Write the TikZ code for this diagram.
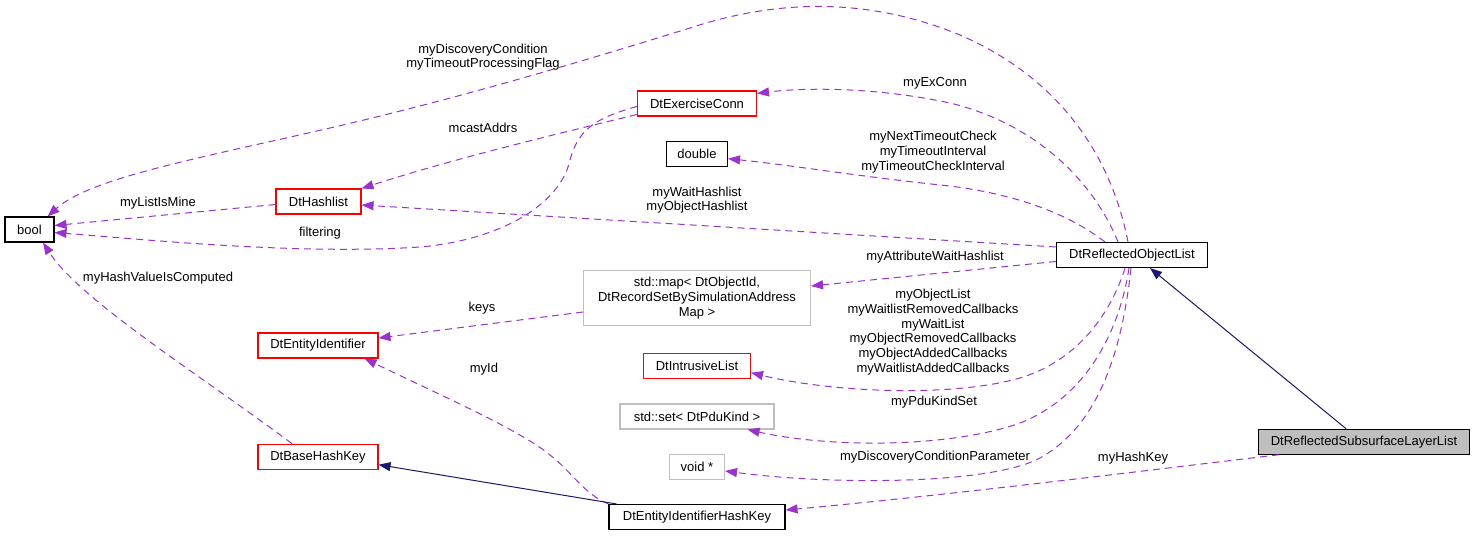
\documentclass[tikz,border=0pt]{standalone}
\usepackage{fontspec}
\setmainfont{Liberation Sans}
\usetikzlibrary{arrows.meta}

\definecolor{depcol}{HTML}{9A32CD}
\definecolor{inhcol}{HTML}{191970}
\definecolor{boxgrey}{HTML}{BFBFBF}

\begin{document}
\begin{tikzpicture}[
            x = 1pt, y = -1pt, % pixel units, y going down
            > = {Triangle[length=12pt, width=9pt]}, % arrow head style
            font = \fontsize{13}{14.7}\selectfont,
            semithick % line style
        ]

        \tikzstyle{cls}=[
            draw = black,
            line width = 1.1pt,
            fill = white,
            inner sep = 2pt,
            minimum height = 25pt
        ]
        \tikzstyle{undoc}=[cls, draw = red]
        \tikzstyle{ext}=[cls, draw = boxgrey]
        \tikzstyle{self}=[cls, fill = boxgrey]
        \tikzstyle{dep}=[->, draw = depcol, line width = 1pt, dash pattern = on 7pt off 5pt]
        \tikzstyle{inh}=[->, draw = inhcol, line width = 1pt]
        \tikzstyle{lbl}=[align = center, inner sep = 0pt]

        \useasboundingbox (0,0) rectangle (1475,537);

        % classes
        \node[cls, minimum width = 49pt] (bool) at (29.5,229.5) {bool};
        \node[undoc, minimum width = 85pt] (hashlist) at (318.5,201.5) {DtHashlist};
        \node[undoc, minimum width = 119pt] (exconn) at (697,103.5) {DtExerciseConn};
        \node[cls, minimum width = 61pt] (dbl) at (697,153.7) {double};
        \node[ext, minimum width = 227pt, minimum height = 55pt, align = center] (map) at (697,298)
            {std::map< DtObjectId,\\ DtRecordSetBySimulationAddress\\Map >};
        \node[undoc, minimum width = 120pt] (entid) at (318,345.5) {DtEntityIdentifier};
        \node[undoc, minimum width = 107pt] (intr) at (697,365.7) {DtIntrusiveList};
        \node[ext, minimum width = 154pt] (set) at (697,416.5) {std::set< DtPduKind >};
        \node[ext, minimum width = 55pt] (voidp) at (697,467) {void *};
        \node[undoc, minimum width = 120pt] (bhk) at (318,456.7) {DtBaseHashKey};
        \node[cls, minimum width = 176pt] (ehk) at (697,517) {DtEntityIdentifierHashKey};
        \node[cls, minimum width = 151pt] (rol) at (1132,255) {DtReflectedObjectList};
        \node[self, minimum width = 211pt] (rsll) at (1364,441.7) {DtReflectedSubsurfaceLayerList};

        % labels
        \node[lbl] (lDisc) at (483,57) {myDiscoveryCondition\\myTimeoutProcessingFlag};
        \node[lbl] (lExConn) at (935,83) {myExConn};
        \node[lbl] (lMcast) at (483,128) {mcastAddrs};
        \node[lbl] (lListMine) at (158,203) {myListIsMine};
        \node[lbl] (lFilter) at (320,233) {filtering};
        \node[lbl] (lTimeout) at (933,152) {myNextTimeoutCheck\\myTimeoutInterval\\myTimeoutCheckInterval};
        \node[lbl] (lWaitHash) at (697,200) {myWaitHashlist\\myObjectHashlist};
        \node[lbl] (lAttr) at (935,257) {myAttributeWaitHashlist};
        \node[lbl] (lKeys) at (482,308) {keys};
        \node[lbl] (lObjList) at (933,332) {myObjectList\\myWaitlistRemovedCallbacks\\myWaitList\\myObjectRemovedCallbacks\\myObjectAddedCallbacks\\myWaitlistAddedCallbacks};
        \node[lbl] (lPdu) at (934,402) {myPduKindSet};
        \node[lbl] (lDiscPar) at (935,457) {myDiscoveryConditionParameter};
        \node[lbl] (lHashKey) at (1133,458) {myHashKey};
        \node[lbl] (lId) at (484,369) {myId};
        \node[lbl] (lHashVal) at (158,278) {myHashValueIsComputed};

        % members
        \draw[dep] ([xshift=-4pt]rol.north) .. controls (1115,175) and (1075,85) .. (960,35)
            .. controls (880,2) and (790,-5) .. (690,28)
            .. controls (580,62) and (460,98) .. (330,128)
            .. controls (200,158) and (90,178) .. ([xshift=-7pt]bool.north east);
        \draw[dep] ([xshift=-14pt]rol.north) .. controls (1095,185) and (1040,125) .. (950,103)
            .. controls (870,86) and (800,88) .. ([yshift=-3pt]exconn.north east);
        \draw[dep] ([xshift=-27pt]rol.north) .. controls (1070,215) and (1020,195) .. (950,186)
            .. controls (870,178) and (790,165) .. ([yshift=-5pt]dbl.east);
        \draw[dep] ([yshift=-3pt]exconn.west) .. controls (595,118) and (578,130) .. (570,160)
            .. controls (560,205) and (500,240) .. (420,247)
            .. controls (300,255) and (150,240) .. ([yshift=-3pt]bool.east);
        \draw[dep] ([yshift=-11pt]exconn.west) .. controls (540,138) and (450,160) .. (hashlist.north east);
        \path ([yshift=-3pt]hashlist.west) edge[dep] ([yshift=4pt]bool.east);
        \path ([yshift=8pt]rol.west) edge[dep] ([yshift=-3.5pt]hashlist.east);
        \path ([yshift=-6.5pt]rol.west) edge[dep] ([yshift=12pt]map.east);
        \path ([yshift=-14pt]map.west) edge[dep] ([yshift=7.5pt]entid.east);
        \draw[dep] ([xshift=-7pt]rol.south) .. controls (1112,310) and (1080,360) .. (1020,378)
            .. controls (950,398) and (830,392) .. ([yshift=-7pt]intr.east);
        \draw[dep] ([xshift=-3pt]rol.south) .. controls (1118,340) and (1080,400) .. (1020,423)
            .. controls (950,448) and (830,448) .. ([xshift=-27pt]set.south east);
        \draw[dep] ([xshift=-1pt]rol.south) .. controls (1120,370) and (1090,430) .. (1040,458)
            .. controls (990,485) and (830,485) .. ([yshift=-4pt]voidp.east);
        \draw[dep] ([xshift=21pt]rsll.south west) .. controls (1150,470) and (950,495) .. ([yshift=7pt]ehk.east);
        \draw[dep] (ehk.north west) .. controls (585,495) and (570,470) .. (550,455)
            .. controls (520,430) and (440,395) .. ([xshift=-14pt]entid.south east);
        \draw[dep] ([xshift=-26pt]bhk.north) .. controls (200,375) and (80,300) .. ([xshift=13.5pt]bool.south);

        % inheritance
        \path ([xshift=-18pt]rsll.north) edge[inh] ([xshift=18pt]rol.south);
        \path ([xshift=8pt]ehk.north west) edge[inh] ([yshift=-8pt]bhk.east);

  \end{tikzpicture}
\end{document}
